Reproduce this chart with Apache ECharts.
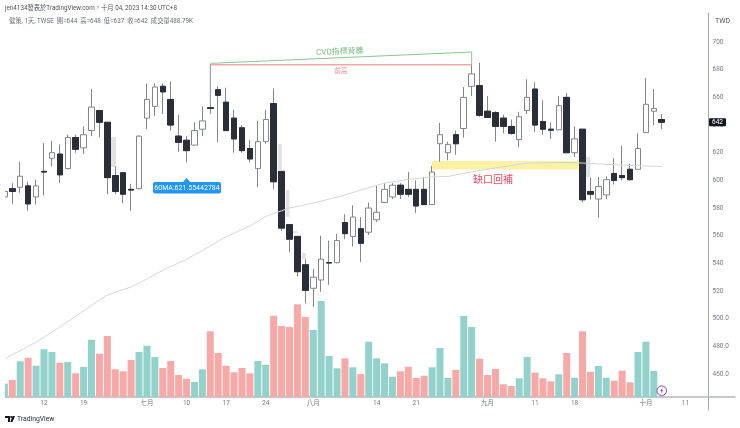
<!DOCTYPE html>
<html>
<head>
<meta charset="utf-8">
<style>
  html, body { margin: 0; padding: 0; background: #fff; }
  #main { width: 740px; height: 428px; }
</style>
<script src="https://cdn.jsdelivr.net/npm/echarts@6/dist/echarts.min.js"></script>
</head>
<body>
<div id="main"></div>
<script>
// candles, one per trading day, index 0 = first visible bar
var opens = [588,594,595,596,588,606.5,616,619,608.5,631,623.5,636,650.5,642,603.5,605.5,593.5,594,645,653.5,668,658.5,632,629,625.5,637,652.5,665.5,656.5,645,638,623,608.5,628,655.5,606.5,568,559.5,539,522,528,540.5,540.5,569.5,559.5,565,562.5,571.5,584,588,596.5,593.5,593.5,593.5,582.5,626.5,620,633,637.5,668,668.5,650,649,645,639,629.5,650.5,666,642.5,637,636.5,660,620,637,592,586.5,589.5,605,603.5,608,608,634.5,650,644];
var closes = [592,592,603,583,596,606,620,604,631,622.5,633,653,642,602,592,590,593,632,658.5,667.5,664,640,627.5,621.5,636,643,652,661.5,636,630,621.5,615.5,628,644,599,565.5,557.5,534,520.5,530,543,540.3,556.5,561.5,573.5,554.5,580,577,593.5,596.5,590,590,581.5,582.5,606,633,626,626.5,660,677,647,645.5,639,639,634,646,660,640,637,636.3,654,620,630,586,590,595.5,600.5,600,602,600.5,623,655,652,642];
var lows = [586,583,591,578,582.5,589,610,598,608,620,619,632,631,590,590,583.5,578,593.5,637,646.5,648,636,620.5,613,625,632,648,627.5,636,620,620,613,595,626.5,593.5,563.5,548,530.5,511,508.5,519.5,524.5,540,557.5,552,541,560.5,570,584,586.5,586.5,588,576.5,582.5,582.5,613.5,614.5,618.5,631,661,646,645.5,628,634,633,624,648,635,633,630,636.5,620,617,584,586,573,586.5,597,600,600,608,634.5,640,637];
var highs = [594,598,613.5,599,600.5,627,628.5,626,633,633,639,666,651,642,610,605.5,597.5,632.5,670,670,670,671.5,647.5,632,642,653.5,655,668,667,651,640,629,643,651,666.5,606.5,568,559.5,543,536,560,556.5,561.5,575.5,582,573.5,584,596,598,598,598,606,600,602.5,610.5,641.5,628,636,667.5,684,685,661,650,647.5,644,649.5,673,671,658,642,661,663,639,637,602,602.5,603,616,625,612,634,674,666,648];

// volume heights off the picture, relative units; side: 1 = teal, 0 = pink
var volumes = [13.3,17,35.7,39.3,31.3,47.7,45,34.3,35,23.7,30,57.3,43.3,61,27.7,25.7,37,45,51.3,40,29,36,22,18.3,15,27.7,65.7,44,31.3,24.7,29,23.7,36,32.3,81.3,71,70,92.7,80,67,96,41,28.7,38.7,29.7,23,55.3,38.7,33.7,20.3,25.7,30.3,19,21.3,29.7,49,19,27,81,70,38.3,22,28,12.7,11,18.7,40,24.3,18.7,15.7,22.7,44,19.3,65.7,25.3,31,19.3,16.3,26.3,14.7,45,55.3,26,0.5];
var volumeSide = [1,0,1,0,1,1,1,0,1,0,1,1,0,0,0,0,0,1,1,1,0,0,0,0,1,1,0,0,0,0,0,0,1,1,0,0,0,0,0,1,1,1,1,0,1,0,1,1,1,1,0,0,0,0,1,1,1,0,1,1,0,0,0,0,0,1,1,0,0,0,1,0,1,0,0,1,1,0,0,0,1,1,1,1];

// 60MA, sampled where it could be read
var maIndex = [0,4,7,12,13,16,18,20,23,25,28,31,33,35,36,39,43,45,48,51,54,56,59,62,66,71,74,78,83];
var maValues = [471,483,494,513.5,517,523,528.7,535,543,549.3,559.3,567,574,578,580,583.6,589.4,593,598,600.6,602.6,602.8,606.2,609,612.5,613,612.3,611,610];

// axis ticks
var priceTicks = [460,480,500,520,540,560,580,600,620,640,660,680,700];
var tickIndex = [5,10,18,23,28,33,39,47,52,61,67,72,81,86];
var tickLabels = ['12','19','七月','10','17','24','八月','14','21','九月','11','18','十月','11'];

// gray blocks: start, end (bar index), top, bottom (price)
var grayStart = [13.46,34.55,35.55,36.44,37.58,73.44];
var grayEnd = [14.09,35.05,36,36.95,38.08,74];
var grayTop = [631.3,626.3,593,563.4,547.5,616.9];
var grayBottom = [609.6,607.5,573.5,562,543,602.4];

// gap zone and drawn lines
var gapZone = [53.99,72.68,614,607.8];
var cvdLine = [[26,684.6],[59,692.8],[59,684]];
var prevHighLine = [[26,683.6],[59,683.6]];
var leadLine = [[26,684],[26,655]];

var lastClose = closes[closes.length - 1];
var FONT = 'Roboto, "Noto Sans CJK TC", sans-serif';

var candleData = opens.map(function (o, i) { return [i, o, closes[i], lows[i], highs[i]]; });
// dark bodies redrawn without wick so their edge stays dark
var darkBodies = [];
opens.forEach(function (o, i) {
  if (closes[i] < o) darkBodies.push([i, o, closes[i], closes[i], o]);
});
var volumeData = volumes.map(function (v, i) {
  return {
    value: [i, v],
    itemStyle: { color: volumeSide[i] ? '#92d2cb' : '#f7a9a7' }
  };
});
var maData = maIndex.map(function (x, i) { return [x, maValues[i]]; });
var grayData = grayStart.map(function (x, i) { return [x, grayEnd[i], grayTop[i], grayBottom[i]]; });

function zoneItem(params, api) {
  var a = api.coord([api.value(0), api.value(2)]);
  var b = api.coord([api.value(1), api.value(3)]);
  return {
    type: 'rect',
    shape: { x: a[0], y: a[1], width: b[0] - a[0], height: b[1] - a[1] },
    style: { fill: params.seriesIndex === 0 ? '#fdf1a5' : '#e2e3e4' }
  };
}

var X_MIN = 0.076, X_MAX = 92.25;

var chart = echarts.init(document.getElementById('main'));
chart.setOption({
  animation: false,
  backgroundColor: '#fff',
  textStyle: { fontFamily: FONT },
  grid: [
    { left: 5, right: 5, top: 13, height: 397 },
    { left: 5, right: 5, top: 300, height: 97 }
  ],
  xAxis: [
    { type: 'value', gridIndex: 0, min: X_MIN, max: X_MAX, show: false, splitLine: { show: false } },
    {
      type: 'value', gridIndex: 1, min: X_MIN, max: X_MAX,
      splitLine: { show: false },
      axisTick: { show: false },
      axisLine: { onZero: false, lineStyle: { color: '#b4b6bb', width: 1.5 } },
      axisLabel: {
        customValues: tickIndex,
        margin: 3,
        fontSize: 6.5,
        fontFamily: FONT,
        color: function (v) { return /月/.test(tickLabels[tickIndex.indexOf(v)]) ? '#50535e' : '#787b86'; },
        formatter: function (v) { return tickLabels[tickIndex.indexOf(v)]; }
      }
    }
  ],
  yAxis: [
    {
      type: 'value', gridIndex: 0, position: 'right', offset: -26.5,
      min: 434, max: 721, scale: true,
      splitLine: { show: false },
      axisTick: { show: false },
      axisLine: { show: true, onZero: false, lineStyle: { color: '#a3a6af', width: 1 } },
      axisLabel: {
        customValues: priceTicks,
        margin: 4,
        fontSize: 6.5,
        fontFamily: FONT,
        color: '#787b86',
        formatter: function (v) { return v <= 500 ? v.toFixed(1) : String(v); }
      }
    },
    { type: 'value', gridIndex: 1, min: 0, max: 97, show: false, splitLine: { show: false } }
  ],
  series: [
    {
      type: 'custom', xAxisIndex: 0, yAxisIndex: 0, renderItem: zoneItem,
      data: [gapZone], encode: { x: [0, 1], y: [2, 3] }, silent: true
    },
    {
      type: 'custom', xAxisIndex: 0, yAxisIndex: 0, renderItem: zoneItem,
      data: grayData, encode: { x: [0, 1], y: [2, 3] }, silent: true
    },
    {
      type: 'line', xAxisIndex: 0, yAxisIndex: 0, data: maData, showSymbol: false, smooth: false,
      lineStyle: { color: '#d5d6d9', width: 1 }
    },
    {
      type: 'line', xAxisIndex: 0, yAxisIndex: 0, data: leadLine, showSymbol: false,
      lineStyle: { color: '#8a8d96', width: 1 }
    },
    {
      type: 'candlestick', xAxisIndex: 0, yAxisIndex: 0, data: candleData,
      encode: { x: 0, y: [1, 2, 3, 4] }, barWidth: 6,
      itemStyle: { color: '#fff', color0: '#2a2e39', borderColor: '#83868f', borderColor0: '#83868f', borderWidth: 1 }
    },
    {
      type: 'candlestick', xAxisIndex: 0, yAxisIndex: 0, data: darkBodies,
      encode: { x: 0, y: [1, 2, 3, 4] }, barWidth: 6,
      itemStyle: { color: '#2a2e39', color0: '#2a2e39', borderColor: '#2a2e39', borderColor0: '#2a2e39', borderWidth: 1 }
    },
    {
      type: 'line', xAxisIndex: 0, yAxisIndex: 0, data: prevHighLine, showSymbol: false,
      lineStyle: { color: '#f4a5a5', width: 1.6 }
    },
    {
      type: 'line', xAxisIndex: 0, yAxisIndex: 0, data: cvdLine, showSymbol: false,
      lineStyle: { color: '#8bc68e', width: 1 }
    },
    {
      type: 'bar', xAxisIndex: 1, yAxisIndex: 1, data: volumeData, barWidth: 7, silent: true
    }
  ]
});

// callouts and chrome that sit around the plot
var tagY = chart.convertToPixel({ yAxisIndex: 0 }, lastClose);
var maTagX = chart.convertToPixel({ xAxisIndex: 0 }, 23);
var lastX = chart.convertToPixel({ xAxisIndex: 0 }, 83);

function label(x, y, text, size, color, extra) {
  extra = extra || {};
  return {
    type: 'text', x: x, y: y, z: 20, rotation: extra.rotation || 0,
    style: {
      text: text, fontSize: size, fill: color, fontFamily: FONT,
      textAlign: extra.align || 'left', textVerticalAlign: 'middle'
    }
  };
}

chart.setOption({
  graphic: [
    // first bar is cut by the left edge of the pane
    { type: 'rect', z: 10, shape: { x: 0, y: 26, width: 5, height: 384 }, style: { fill: '#fff' } },
    label(5, 8, 'jen4134發表於TradingView.com，十月 04, 2023 14:30 UTC+8', 6.3, '#50535e'),
    label(9, 21, '健策, 1天, TWSE  開=644  高=648  低=637  收=642  成交量488.79K', 6.3, '#6a6d78'),
    label(715, 21, 'TWD', 7, '#50535e'),
    { type: 'rect', z: 19, shape: { x: 709, y: tagY - 4, width: 17, height: 8, r: 1 }, style: { fill: '#131722' } },
    label(717.5, tagY, String(lastClose), 6.5, '#fff', { align: 'center' }),
    { type: 'polygon', z: 19, shape: { points: [[maTagX - 4, 182.5], [maTagX, 178], [maTagX + 4, 182.5]] }, style: { fill: '#2196f3' } },
    { type: 'rect', z: 19, shape: { x: 153, y: 182, width: 68, height: 11.5, r: 2 }, style: { fill: '#2196f3' } },
    label(187, 188, '60MA:621.55442784', 7, '#fff', { align: 'center' }),
    label(340, 52, 'CVD指標背離', 8, '#7cbf80', { rotation: 0.045, align: 'center' }),
    label(341, 71, '前高', 6.5, '#ef8a8f', { align: 'center' }),
    label(473, 180, '缺口回補', 10, '#ee4a62'),
    // lightning mark on the last bar
    { type: 'circle', z: 19, shape: { cx: lastX, cy: 390.7, r: 4.8 }, style: { fill: '#fff', stroke: '#9c3fc4', lineWidth: 1 } },
    { type: 'polygon', z: 20, shape: { points: [[lastX + 1, 387.8], [lastX - 1.6, 391], [lastX - 0.2, 391], [lastX - 1, 393.6], [lastX + 1.6, 390.3], [lastX + 0.2, 390.3]] }, style: { fill: '#9c3fc4' } },
    // TradingView mark
    { type: 'polygon', z: 20, shape: { points: [[5, 416], [10, 416], [10, 422], [8, 422], [8, 418], [5, 418]] }, style: { fill: '#131722' } },
    { type: 'circle', z: 20, shape: { cx: 11.2, cy: 417, r: 1 }, style: { fill: '#131722' } },
    { type: 'polygon', z: 20, shape: { points: [[12.5, 416], [15, 416], [12.5, 422], [10.3, 422]] }, style: { fill: '#131722' } },
    label(17, 419.5, 'TradingView', 6.8, '#2a2e39')
  ]
});
</script>
</body>
</html>
